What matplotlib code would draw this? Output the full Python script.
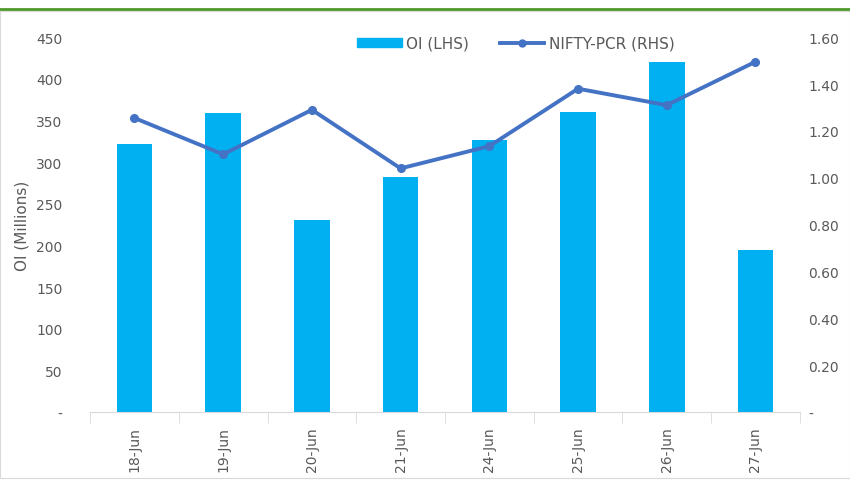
import numpy as np
import matplotlib.pyplot as plt
from matplotlib.lines import Line2D
from matplotlib.patches import Patch

dates = ["18-Jun", "19-Jun", "20-Jun", "21-Jun", "24-Jun", "25-Jun", "26-Jun", "27-Jun"]
oi = [322, 359, 231, 282, 327, 360, 420, 195]
pcr = [1.255, 1.10, 1.29, 1.04, 1.135, 1.38, 1.31, 1.495]

left_ticks = [0, 50, 100, 150, 200, 250, 300, 350, 400, 450]
right_ticks = [0, 0.2, 0.4, 0.6, 0.8, 1.0, 1.2, 1.4, 1.6]

bar_color = "#00B0F0"
line_color = "#4472C4"
text_color = "#595959"

fig = plt.figure(figsize=(8.5, 4.89), dpi=100)
fig.patches.append(plt.Rectangle((0.0, 0.02), 1.0, 0.955, transform=fig.transFigure,
                                 fill=False, edgecolor="#D9D9D9", linewidth=0.8))
fig.add_artist(Line2D([0, 1], [0.98, 0.98], transform=fig.transFigure,
                      color="#4C9A2A", linewidth=2))

ax = fig.add_axes([0.106, 0.155, 0.835, 0.767])
x = np.arange(len(dates))
ax.bar(x, oi, width=0.4, color=bar_color, zorder=2)
ax.set_xlim(-0.5, len(dates) - 0.5)
ax.set_ylim(0, 450)
ax.set_yticks(left_ticks)
ax.set_yticklabels(["-"] + [str(v) for v in left_ticks[1:]])
ax.set_xticks(x)
ax.set_xticklabels(dates, rotation=90)
ax.set_xticks(np.arange(-0.5, len(dates)), minor=True)
ax.tick_params(axis="x", which="major", length=0, pad=10, labelsize=10, colors=text_color)
ax.tick_params(axis="x", which="minor", length=8, color="#D9D9D9", direction="out")
ax.tick_params(axis="y", length=0, pad=20, labelsize=10, colors=text_color)
for s in ["top", "right", "left"]:
    ax.spines[s].set_visible(False)
ax.spines["bottom"].set_color("#D9D9D9")
ax.set_ylabel("OI (Millions)", fontsize=11, color=text_color)
ax.yaxis.set_label_coords(-0.085, 0.5)

ax2 = ax.twinx()
ax2.plot(x, pcr, color=line_color, linewidth=2.8, marker="o", markersize=5.5, zorder=3)
ax2.set_ylim(0, 1.6)
ax2.set_yticks(right_ticks)
ax2.set_yticklabels(["-"] + ["%.2f" % v for v in right_ticks[1:]])
ax2.tick_params(axis="y", length=0, pad=6, labelsize=10, colors=text_color)
for s in ["top", "right", "left", "bottom"]:
    ax2.spines[s].set_visible(False)

handles = [Patch(color=bar_color, label="OI (LHS)"),
           Line2D([0], [0], color=line_color, linewidth=2.8, marker="o", markersize=5,
                  label="NIFTY-PCR (RHS)")]
leg = fig.legend(handles=handles, loc="center", bbox_to_anchor=(0.607, 0.91), ncol=2,
                 frameon=False, fontsize=11, handlelength=2.9, handleheight=0.55,
                 columnspacing=2.0, handletextpad=0.3)
for t in leg.get_texts():
    t.set_color(text_color)

fig.savefig("out.png", dpi=100)
